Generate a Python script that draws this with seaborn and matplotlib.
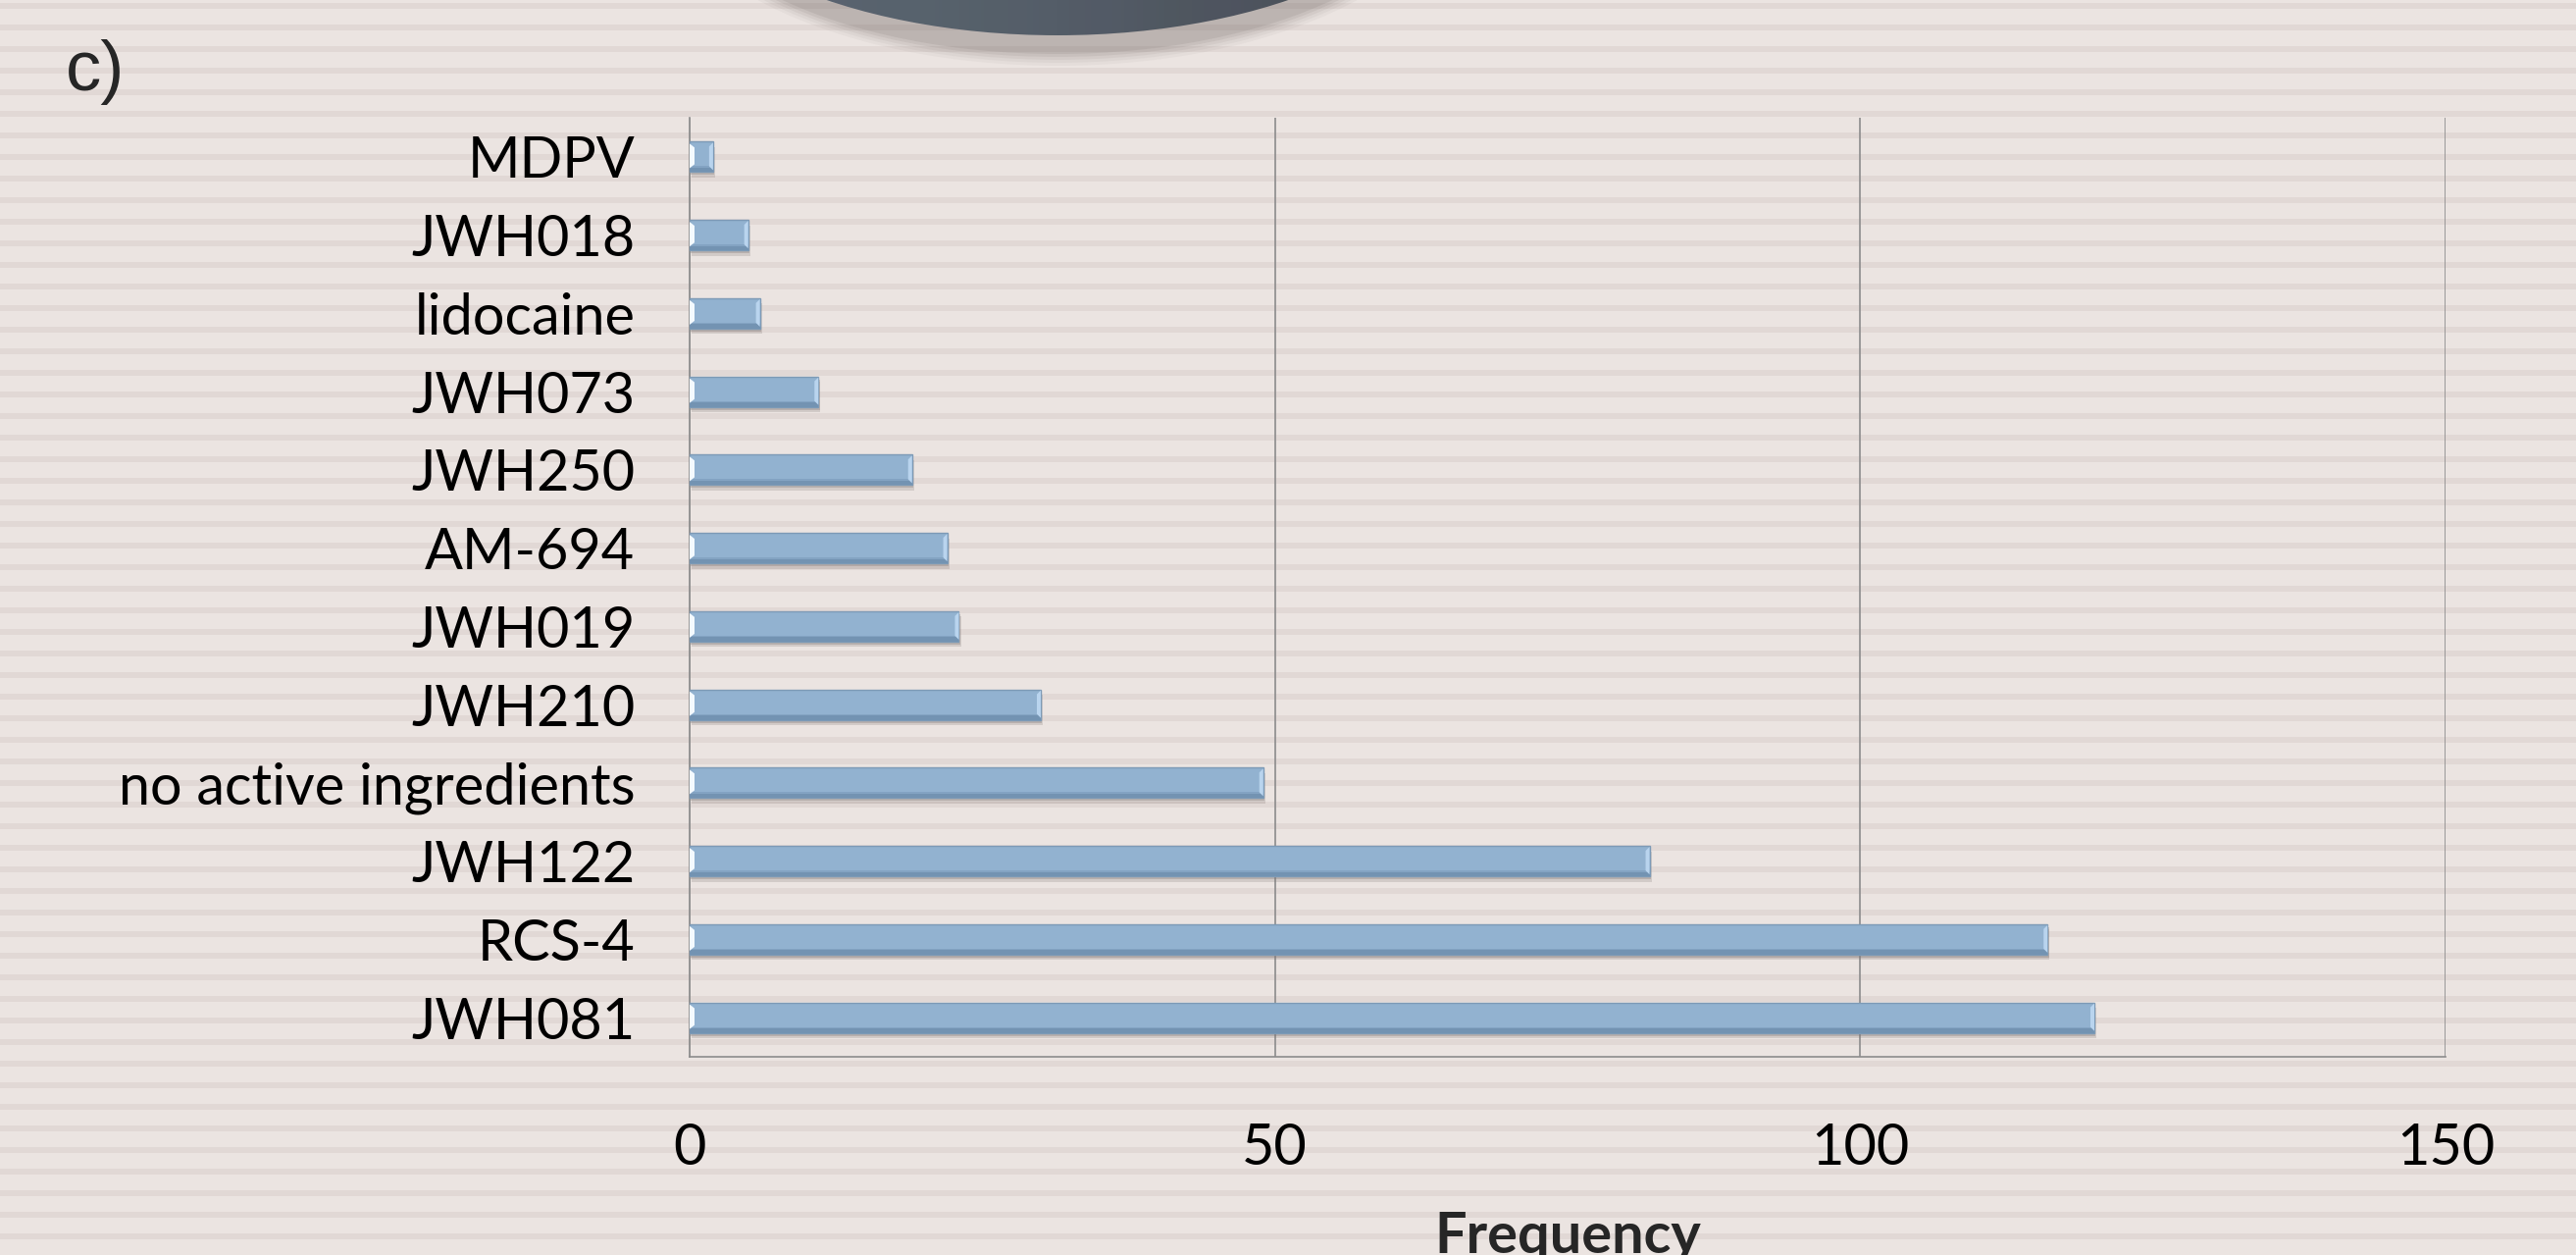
import numpy as np
import pandas as pd
import matplotlib
matplotlib.use("Agg")
import matplotlib.pyplot as plt
from matplotlib.patches import Ellipse, Rectangle, Polygon
import matplotlib.patheffects as pe
import seaborn as sns

# ---- data -------------------------------------------------------------
substances = ["MDPV", "JWH018", "lidocaine", "JWH073", "JWH250", "AM-694",
              "JWH019", "JWH210", "no active ingredients", "JWH122", "RCS-4",
              "JWH081"]
frequency = [2, 5, 6, 11, 19, 22, 23, 30, 49, 82, 116, 120]
x_ticks = [0, 50, 100, 150]
panel_label = "c)"
x_title = "Frequency"

# ---- styling ----------------------------------------------------------
W, H, DPI = 2626, 1279, 100
BG = "#EBE4E1"
STRIPE = "#E1D8D5"
BAR = "#92B2D0"
GRID = "#8C8C8C"
FONT = ["Lato", "DejaVu Sans"]

sns.set_theme(style="white")
plt.rcParams["font.family"] = FONT

fig = plt.figure(figsize=(W / DPI, H / DPI), dpi=DPI, facecolor=BG)

# striped slide background + decorative oval, drawn in pixel coordinates
bg = fig.add_axes([0, 0, 1, 1], zorder=-10)
bg.axis("off")
rows = np.zeros((H, 1, 3))
c_bg = np.array(matplotlib.colors.to_rgb(BG))
c_st = np.array(matplotlib.colors.to_rgb(STRIPE))
yy = np.arange(H)
mask = ((yy - 3) % 22) < 6
rows[:] = c_bg
rows[mask] = c_st
bg.imshow(rows, extent=[0, W, H, 0], aspect="auto", interpolation="nearest")

cx, cy, ew, eh = 1078, -152, 800, 376
for k, a in enumerate([0.05, 0.06, 0.08, 0.10, 0.12]):
    grow = 30 - 6 * k
    bg.add_patch(Ellipse((cx, cy + 12), ew + grow, eh + grow + 8,
                         facecolor="#6b625f", edgecolor="none", alpha=a))
oval = Ellipse((cx, cy), ew, eh, facecolor="none", edgecolor="none")
bg.add_patch(oval)
grad = np.linspace(0, 1, 256)[None, :]
cmap = matplotlib.colors.LinearSegmentedColormap.from_list(
    "oval", ["#586d84", "#4b5d70", "#34404c"])
im = bg.imshow(grad, extent=[cx - ew / 2, cx + ew / 2, cy + eh / 2, cy - eh / 2],
               cmap=cmap, aspect="auto", interpolation="bilinear")
im.set_clip_path(oval)
bg.set_xlim(0, W)
bg.set_ylim(H, 0)

# ---- main chart ------------------------------------------------------
left, right, top, bottom = 703, 2493, 120, 1077
ax = fig.add_axes([left / W, 1 - bottom / H, (right - left) / W, (bottom - top) / H])
ax.set_facecolor("none")

df = pd.DataFrame({"substance": substances, "frequency": frequency})
sns.barplot(data=df, x="frequency", y="substance", orient="h", color=BAR,
            width=0.39, saturation=1, edgecolor="#7d9ab6", linewidth=1.0,
            ax=ax, zorder=3)

ax.set_xlim(0, 150)
ax.set_xticks(x_ticks)
ax.set_ylim(len(substances) - 0.5, -0.5)

# pixel size of one data unit, for the bevel details
px_x = (right - left) / 150.0
px_y = (bottom - top) / len(substances)

for p in list(ax.patches):
    x0, y0, w, h = p.get_x(), p.get_y(), p.get_width(), p.get_height()
    p.set_path_effects([
        pe.SimplePatchShadow(offset=(1.5, -4.0), shadow_rgbFace="#7d7370", alpha=0.22),
        pe.SimplePatchShadow(offset=(1.0, -2.2), shadow_rgbFace="#7d7370", alpha=0.30),
        pe.Normal()])
    bt = 4.5 / px_y  # bottom bevel band
    ax.add_patch(Rectangle((x0, y0 + h - bt), w, bt, facecolor="#7393b2",
                           edgecolor="none", zorder=4))
    ax.add_patch(Rectangle((x0, y0 + h - bt - 1.5 / px_y), w, 1.5 / px_y,
                           facecolor="#83a3c2", edgecolor="none", zorder=4))
    lw = 5 / px_x
    ax.add_patch(Polygon([(x0, y0 + 2 / px_y), (x0 + lw, y0 + 6 / px_y),
                          (x0 + lw, y0 + h - 8 / px_y), (x0, y0 + h - 4 / px_y)],
                         closed=True, facecolor="#f4faff", edgecolor="none", zorder=5))
    rw = 4 / px_x
    ax.add_patch(Polygon([(x0 + w - rw, y0 + 5 / px_y), (x0 + w, y0 + 1 / px_y),
                          (x0 + w, y0 + h - 2 / px_y), (x0 + w - rw, y0 + h - 6 / px_y)],
                         closed=True, facecolor="#b9d4ee", edgecolor="none", zorder=5))

# axes frame and grid
ax.grid(False)
ax.xaxis.grid(True, color=GRID, linewidth=1.2, zorder=1)
for side in ["top", "right"]:
    ax.spines[side].set_visible(False)
for side in ["left", "bottom"]:
    ax.spines[side].set_color(GRID)
    ax.spines[side].set_linewidth(1.2)
ax.tick_params(axis="both", length=0, labelsize=41.5, colors="black")
ax.tick_params(axis="x", pad=48)
ax.tick_params(axis="y", pad=40)
ax.set_ylabel("")
ax.set_xlabel(x_title, fontsize=41.5, fontweight="bold", labelpad=27)

fig.text(67 / W, 1 - 92 / H, panel_label, fontsize=52,
         family=["Liberation Sans", "DejaVu Sans"], va="baseline", ha="left")

fig.savefig("out.png", dpi=DPI, facecolor=BG)
